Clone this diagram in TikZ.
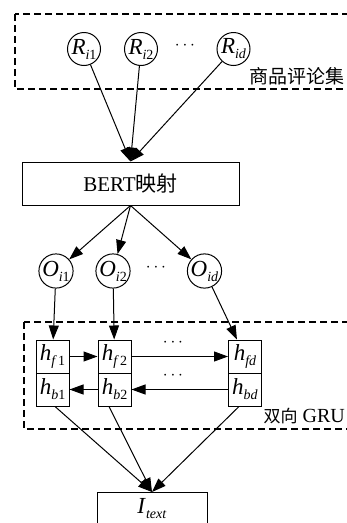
\documentclass[tikz,border=0pt]{standalone}
\usepackage{fontspec}
\setmainfont{Liberation Serif}
\newfontfamily\zh{Noto Sans CJK SC}
\usetikzlibrary{arrows.meta}
% italic symbol with a lowered, smaller subscript
\newcommand\sbs[1]{\raisebox{-0.22em}{\fontsize{14}{14}\selectfont #1}}
\newcommand\vr[2]{\textit{#1}\sbs{#2}}
\begin{document}
\begin{tikzpicture}[x=1pt,y=-1pt,
  font=\fontsize{21}{22}\selectfont,
  sym/.style={font=\fontsize{23}{24}\selectfont},
  circ/.style={circle,draw,line width=1pt,minimum size=33pt,inner sep=0pt,sym},
  hbox/.style={draw,line width=1pt,minimum width=33pt,minimum height=33pt,inner sep=0pt,sym},
  plainbox/.style={draw,line width=1pt,inner sep=0pt},
  arr/.style={-{Triangle[length=14pt,width=10pt]},line width=1pt},
  grp/.style={draw,dash pattern=on 7pt off 4pt,line width=1.1pt},
  dotsnode/.style={font=\fontsize{17}{17}\selectfont,inner sep=0pt}]
\useasboundingbox (0,0) rectangle (346,523);

% review set
\draw[grp] (15,14) rectangle (360,89);
\node[circ] (ri1) at (84,49) {\vr{R}{\textit{i}1}};
\node[circ] (ri2) at (141,49) {\vr{R}{\textit{i}2}};
\node[dotsnode] (rdots) at (185,46) {$\cdots$};
\node[circ] (rid) at (233.5,49) {\vr{R}{\textit{id}}};
\node[anchor=east,inner sep=0pt,font=\zh\fontsize{19}{19}\selectfont] (lab1) at (345,76) {商品评论集};

% BERT mapping
\node[plainbox,minimum width=217pt,minimum height=43pt] (bert) at (130.5,183.5) {BERT{\zh 映射}};
\draw[arr] (ri1) -- (bert.north);
\draw[arr] (ri2) -- (bert.north);
\draw[arr] (rid) -- (bert.north);

% output vectors
\node[circ] (oi1) at (56,271) {\vr{O}{\textit{i}1}};
\node[circ] (oi2) at (113,271) {\vr{O}{\textit{i}2}};
\node[dotsnode] (odots) at (156,268) {$\cdots$};
\node[circ] (oid) at (204.5,271) {\vr{O}{\textit{id}}};
\draw[arr] (bert.south) -- (oi1);
\draw[arr] (bert.south) -- (oi2);
\draw[arr] (bert.south) -- (oid);

% bidirectional GRU
\draw[grp] (24,322) rectangle (360,429);
\node[hbox] (hf1) at (52.5,356.5) {\vr{h}{\textit{f}\kern1pt1}};
\node[hbox] (hb1) at (52.5,389.5) {\vr{h}{\textit{b}1}};
\node[hbox] (hf2) at (114.5,356.5) {\vr{h}{\textit{f}\kern1pt2}};
\node[hbox] (hb2) at (114.5,389.5) {\vr{h}{\textit{b}2}};
\node[hbox] (hfd) at (245,356.5) {\vr{h}{\textit{fd}}};
\node[hbox] (hbd) at (245,389.5) {\vr{h}{\textit{bd}}};
\node[dotsnode] (fdots) at (173,343) {$\cdots$};
\node[dotsnode] (bdots) at (173,376) {$\cdots$};
\node[anchor=east,inner sep=0pt,font=\fontsize{20}{22}\selectfont] (lab2) at (345,416) {{\zh\fontsize{17}{17}\selectfont 双向} GRU};

\draw[arr] (oi1) -- (hf1);
\draw[arr] (oi2) -- (hf2);
\draw[arr] (oid) -- (hfd);
\draw[arr] (hf1) -- (hf2);
\draw[arr] (hf2) -- (hfd);
\draw[arr] (hbd) -- (hb2);
\draw[arr] (hb2) -- (hb1);

% text feature
\node[plainbox,minimum width=110pt,minimum height=32pt,anchor=north,sym] (itext) at (152,492) {\vr{I}{\textit{text}}};
\draw[arr] ([xshift=2.5pt]hb1.south) -- (itext.north);
\draw[arr] ([xshift=-5.5pt]hb2.south) -- (itext.north);
\draw[arr] ([xshift=-6pt]hbd.south) -- (itext.north);
\end{tikzpicture}
\end{document}
